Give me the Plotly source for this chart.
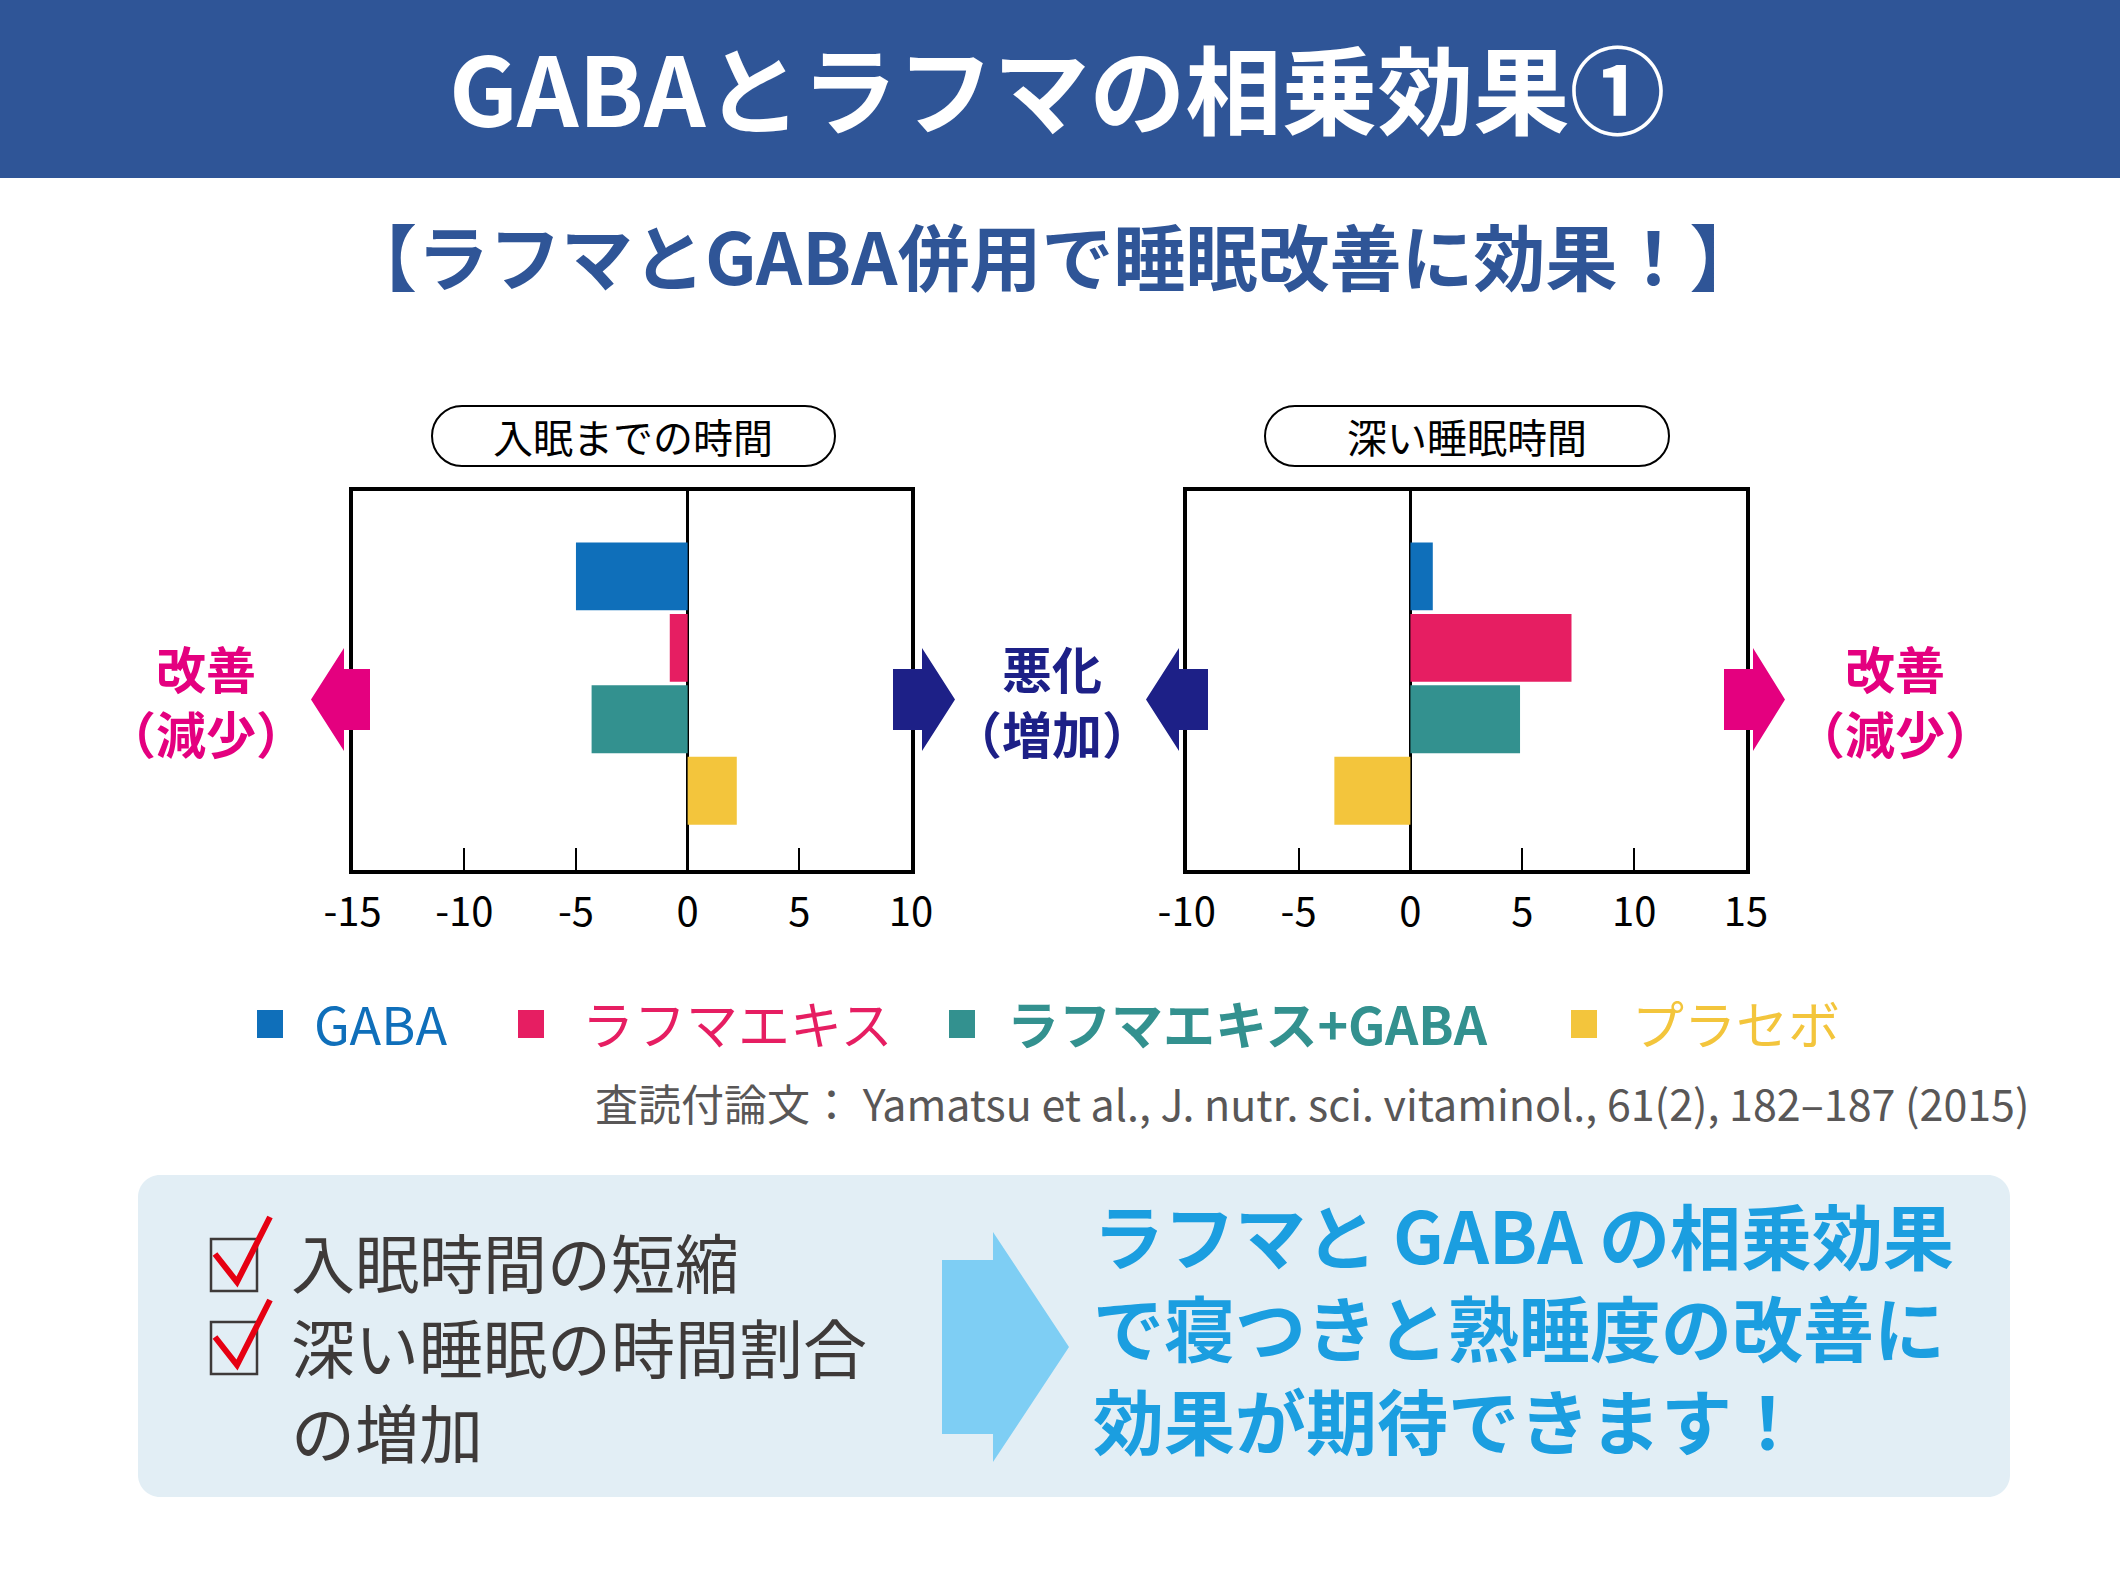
import plotly.graph_objects as go

W, H = 2120, 1590

# ---------------- data ----------------
categories = ["GABA", "ラフマエキス", "ラフマエキス+GABA", "プラセボ"]
sleep_onset = [-5.0, -0.8, -4.3, 2.2]       # 入眠までの時間
deep_sleep = [1.0, 7.2, 4.9, -3.4]          # 深い睡眠時間
bar_colors = ["#0F6FBA", "#E61E62", "#33918F", "#F3C53C"]
legend_bold = [False, False, True, False]
left_ticks = [-15, -10, -5, 0, 5, 10]
left_ticktext = ["-15", "-10", "-5", "0", "5", "10"]
right_ticks = [-10, -5, 0, 5, 10, 15]
right_ticktext = ["-10", "-5", "0", "5", "10", "15"]
panel_titles = ["入眠までの時間", "深い睡眠時間"]
check_lines = ["入眠時間の短縮", "深い睡眠の時間割合", "の増加"]
summary_lines = ["ラフマと GABA の相乗効果", "で寝つきと熟睡度の改善に", "効果が期待できます！"]

FONT = "Noto Sans CJK JP"
HEADER = "#2F5597"
NAVY = "#1D2087"
PINK = "#E4007F"
GRAY = "#3E3A39"


def X(px):
    return px / W


def Y(py):
    return 1 - py / H


def P(x, y):
    return f"{X(x):.6f},{Y(y):.6f}"


def poly(points):
    return "M " + " L ".join(P(x, y) for x, y in points) + " Z"


def rounded(x0, y0, x1, y1, r):
    k = 0.5523 * r
    return (
        f"M {P(x0 + r, y0)} L {P(x1 - r, y0)} "
        f"C {P(x1 - r + k, y0)} {P(x1, y0 + r - k)} {P(x1, y0 + r)} "
        f"L {P(x1, y1 - r)} "
        f"C {P(x1, y1 - r + k)} {P(x1 - r + k, y1)} {P(x1 - r, y1)} "
        f"L {P(x0 + r, y1)} "
        f"C {P(x0 + r - k, y1)} {P(x0, y1 - r + k)} {P(x0, y1 - r)} "
        f"L {P(x0, y0 + r)} "
        f"C {P(x0, y0 + r - k)} {P(x0 + r - k, y0)} {P(x0 + r, y0)} Z"
    )


def arrow(tip, head_base, shaft_end, yc, hh, sh):
    return poly([
        (tip, yc), (head_base, yc - hh), (head_base, yc - sh),
        (shaft_end, yc - sh), (shaft_end, yc + sh), (head_base, yc + sh),
        (head_base, yc + hh),
    ])


fig = go.Figure()

fig.add_trace(go.Bar(
    x=sleep_onset, y=categories, orientation="h", width=0.95,
    marker=dict(color=bar_colors, line=dict(width=0)),
    xaxis="x", yaxis="y", showlegend=False, hoverinfo="x+y",
))
fig.add_trace(go.Bar(
    x=deep_sleep, y=categories, orientation="h", width=0.95,
    marker=dict(color=bar_colors, line=dict(width=0)),
    xaxis="x2", yaxis="y2", showlegend=False, hoverinfo="x+y",
))

ydom = [Y(870), Y(491)]
axis_common = dict(
    showline=True, mirror=True, linecolor="black", linewidth=3.5,
    showgrid=False, zeroline=True, zerolinecolor="black", zerolinewidth=3,
    ticks="inside", ticklen=22, tickwidth=2, tickcolor="black",
    tickfont=dict(family=FONT, size=40, color="black"),
    ticklabelstandoff=4, fixedrange=True, automargin=False,
)
yaxis_common = dict(
    showline=True, mirror=True, linecolor="black", linewidth=3.5,
    showgrid=False, zeroline=False, showticklabels=False, ticks="",
    range=[4.11, -1.196], domain=ydom, fixedrange=True, automargin=False,
    categoryorder="array", categoryarray=categories,
)

fig.update_layout(
    template="none",
    width=W, height=H,
    margin=dict(l=0, r=0, t=0, b=0, pad=0, autoexpand=False),
    paper_bgcolor="white", plot_bgcolor="white",
    barmode="overlay", showlegend=False,
    font=dict(family=FONT),
    xaxis=dict(domain=[X(352.6), X(911)], range=[-15, 10],
               tickvals=left_ticks, ticktext=left_ticktext, anchor="y", **axis_common),
    yaxis=dict(anchor="x", **yaxis_common),
    xaxis2=dict(domain=[X(1186.7), X(1746)], range=[-10, 15],
                tickvals=right_ticks, ticktext=right_ticktext, anchor="y2", **axis_common),
    yaxis2=dict(anchor="x2", **yaxis_common),
)

shapes = []
# header band
shapes.append(dict(type="rect", xref="paper", yref="paper", x0=0, x1=1, y0=Y(178), y1=1,
                   fillcolor=HEADER, line=dict(width=0), layer="below"))
# panel title pills
for x0, x1 in [(432, 835), (1265, 1669)]:
    shapes.append(dict(type="path", xref="paper", yref="paper",
                       path=rounded(x0, 406, x1, 466, 30),
                       fillcolor="white", line=dict(color="black", width=2)))
# direction arrows
shapes.append(dict(type="path", xref="paper", yref="paper",
                   path=arrow(311, 344, 370, 699.5, 51.5, 30.5), fillcolor=PINK, line=dict(width=0)))
shapes.append(dict(type="path", xref="paper", yref="paper",
                   path=arrow(955, 922, 893, 699.5, 51.5, 30.5), fillcolor=NAVY, line=dict(width=0)))
shapes.append(dict(type="path", xref="paper", yref="paper",
                   path=arrow(1146, 1179, 1208, 699.5, 51.5, 30.5), fillcolor=NAVY, line=dict(width=0)))
shapes.append(dict(type="path", xref="paper", yref="paper",
                   path=arrow(1785, 1753, 1724, 699.5, 51.5, 30.5), fillcolor=PINK, line=dict(width=0)))
# legend squares
for sx, c in zip([257, 518, 949, 1571], bar_colors):
    shapes.append(dict(type="rect", xref="paper", yref="paper",
                       x0=X(sx), x1=X(sx + 26), y0=Y(1038), y1=Y(1010),
                       fillcolor=c, line=dict(width=0)))
# bottom summary box
shapes.append(dict(type="path", xref="paper", yref="paper",
                   path=rounded(138, 1175, 2010, 1497, 22),
                   fillcolor="#E2EEF5", line=dict(width=0), layer="below"))
# big light-blue arrow
shapes.append(dict(type="path", xref="paper", yref="paper",
                   path=arrow(1069, 993, 942, 1347, 115, 87), fillcolor="#7ECEF4", line=dict(width=0)))
# checkboxes
for dy in [0, 83]:
    shapes.append(dict(type="rect", xref="paper", yref="paper",
                       x0=X(211), x1=X(257), y0=Y(1291 + dy), y1=Y(1239 + dy),
                       fillcolor="rgba(0,0,0,0)", line=dict(color=GRAY, width=2.5)))
    shapes.append(dict(type="path", xref="paper", yref="paper",
                       path=f"M {P(215, 1254 + dy)} L {P(237, 1282 + dy)} L {P(270, 1217 + dy)}",
                       fillcolor="rgba(0,0,0,0)", line=dict(color="#E60012", width=6)))
fig.update_layout(shapes=shapes)

ann = []


def text(x, y, s, size, color, anchor="center", bold=False):
    ann.append(dict(
        x=X(x), y=Y(y), xref="paper", yref="paper", showarrow=False,
        text=f"<b>{s}</b>" if bold else s, xanchor=anchor, yanchor="middle",
        align="left" if anchor == "left" else ("right" if anchor == "right" else "center"),
        font=dict(family=FONT, size=size, color=color),
    ))


text(1057, 86, "GABAとラフマの相乗効果①", 96, "white", bold=True)
text(1053, 254, "【ラフマとGABA併用で睡眠改善に効果！】", 72, HEADER, bold=True)
text(633, 436, panel_titles[0], 40, "black")
text(1467, 436, panel_titles[1], 40, "black")
text(206, 699, "改善<br>（減少）", 50, PINK, bold=True)
text(1052, 699, "悪化<br>（増加）", 50, NAVY, bold=True)
text(1895, 699, "改善<br>（減少）", 50, PINK, bold=True)
for lx, name, c, b in zip([312, 580, 1005, 1630], categories, bar_colors, legend_bold):
    text(lx, 1022, name, 52, c, anchor="left", bold=b)
text(2032, 1102, "査読付論文： Yamatsu et al., J. nutr. sci. vitaminol., 61(2), 182–187 (2015)",
     43, "#595757", anchor="right")
for ly, s in zip([1260, 1345, 1430], check_lines):
    text(289, ly, s, 64, GRAY, anchor="left")
text(1091, 1325, "<br>".join(summary_lines), 71, "#1B9EE0", anchor="left", bold=True)
fig.update_layout(annotations=ann)

fig.write_html(
    "out.html",
    config={"displayModeBar": False},
    post_script="document.body.style.margin='0';document.body.style.padding='0';"
                "document.body.style.overflow='hidden';",
)
